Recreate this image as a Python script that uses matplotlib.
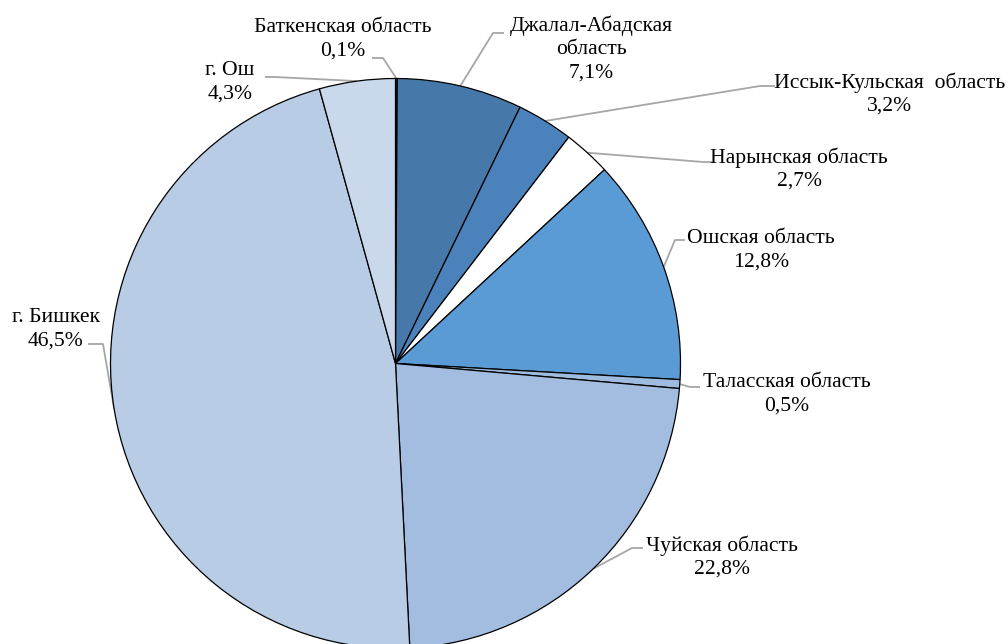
import numpy as np
import matplotlib.pyplot as plt

regions = ['Баткенская область', 'Джалал-Абадская\nобласть', 'Иссык-Кульская  область',
           'Нарынская область', 'Ошская область', 'Таласская область',
           'Чуйская область', 'г. Бишкек', 'г. Ош']
shares = [0.1, 7.1, 3.2, 2.7, 12.8, 0.5, 22.8, 46.5, 4.3]
share_txt = ['0,1%', '7,1%', '3,2%', '2,7%', '12,8%', '0,5%', '22,8%', '46,5%', '4,3%']

colors = ['#203f66', '#4678a9', '#4c82bb', '#ffffff', '#5b9bd5',
          '#9dbce0', '#a3bde1', '#b8cce6', '#c9d8eb']

# label layout in pixels: text centre, elbow point, end of horizontal tick
txt_px = [(343, 39), (591, 49), (890, 94), (799, 169), (761, 250),
          (787, 394), (722, 557), (56, 329), (230, 82)]
elbow_px = [(383, 58), (493, 33), (760, 86), (703, 162), (675, 240),
            (690, 387), (632, 548), (103, 344), (275, 77)]
tick_px = [(372, 58), (504, 33), (775, 86), (712, 162), (685, 240),
           (700, 387), (643, 548), (88, 344), (265, 77)]

cx, cy, R = 395.5, 363.5, 285.0
def to_data(p):
    return ((p[0] - cx) / R, (cy - p[1]) / R)

plt.rcParams['font.family'] = ['Liberation Serif', 'DejaVu Serif']

fig = plt.figure(figsize=(10.08, 6.44), dpi=100)
ax = fig.add_axes([0, 0, 1, 1])
wedges, _ = ax.pie(shares, colors=colors, startangle=90, counterclock=False,
                   radius=1, wedgeprops=dict(edgecolor='black', linewidth=0.9))

for i, w in enumerate(wedges):
    ang = np.deg2rad((w.theta1 + w.theta2) / 2)
    ex, ey = np.cos(ang), np.sin(ang)
    bx, by = to_data(elbow_px[i])
    tx, ty = to_data(tick_px[i])
    ax.plot([ex, bx, tx], [ey, by, ty], color='#a6a6a6', lw=1.3,
            solid_capstyle='butt', zorder=0.5)
    lx, ly = to_data(txt_px[i])
    ax.text(lx, ly, regions[i] + '\n' + share_txt[i], ha='center', va='center',
            fontsize=15.6, linespacing=1.3, color='#000000')

ax.set_xlim(-cx / R, (1008 - cx) / R)
ax.set_ylim((cy - 644) / R, cy / R)
ax.axis('off')
fig.savefig('out.png', dpi=100)
